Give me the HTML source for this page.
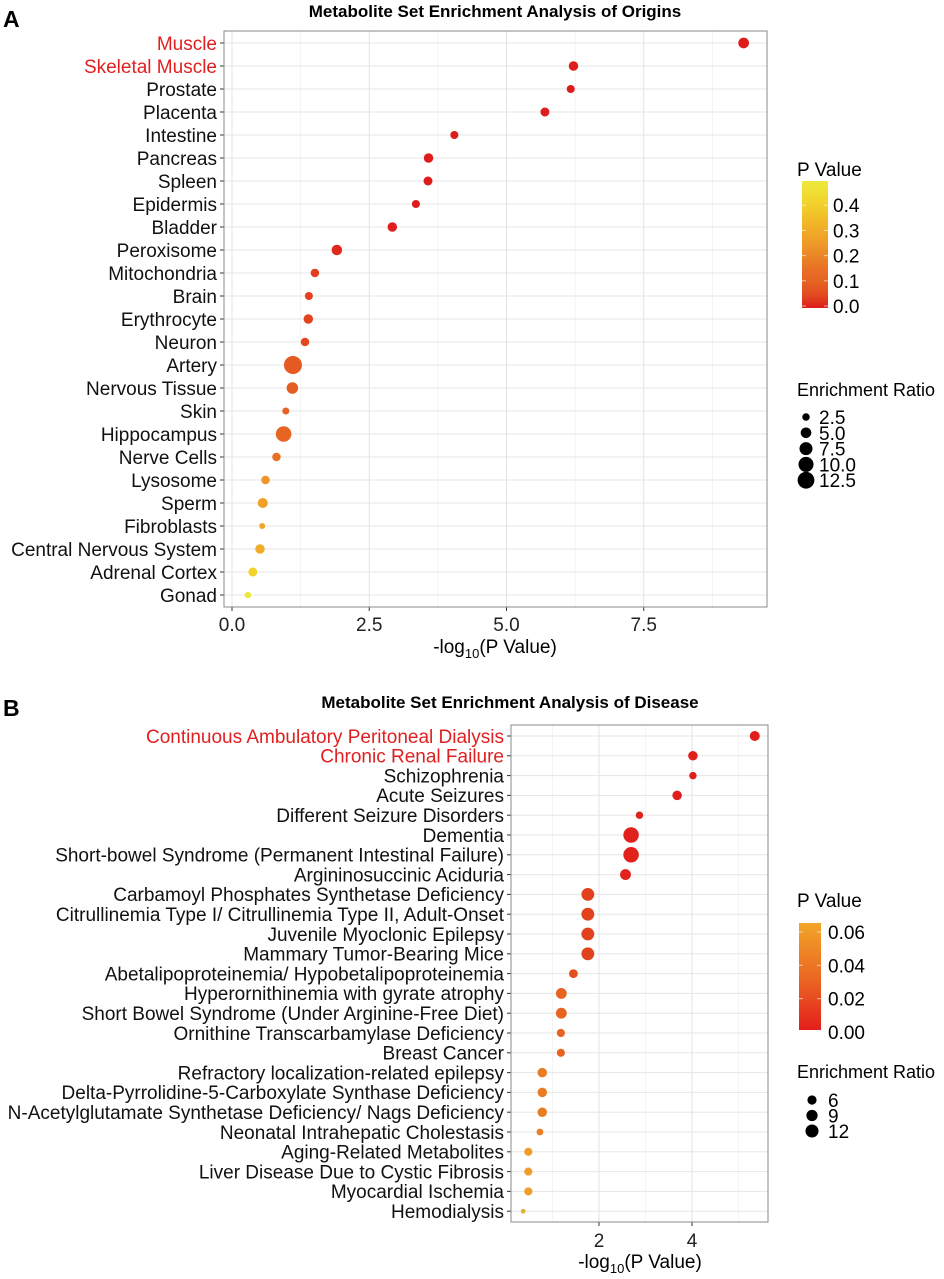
<!DOCTYPE html>
<html><head><meta charset="utf-8"><style>
body{margin:0;background:#fff;font-family:"Liberation Sans",Arial,sans-serif}
svg text{font-family:"Liberation Sans",Arial,sans-serif}
</style></head><body>
<svg id="chart" width="944" height="1274" xmlns="http://www.w3.org/2000/svg"></svg>
<script>
const catsA=["Muscle","Skeletal Muscle","Prostate","Placenta","Intestine","Pancreas","Spleen","Epidermis","Bladder","Peroxisome","Mitochondria","Brain","Erythrocyte","Neuron","Artery","Nervous Tissue","Skin","Hippocampus","Nerve Cells","Lysosome","Sperm","Fibroblasts","Central Nervous System","Adrenal Cortex","Gonad"];
const valsA=[9.32,6.22,6.17,5.70,4.05,3.58,3.57,3.35,2.92,1.91,1.51,1.40,1.39,1.33,1.11,1.10,0.98,0.94,0.81,0.61,0.56,0.55,0.51,0.38,0.29];
const ratioA=[4.6,3.6,2.6,3.2,2.6,3.6,3.2,2.6,3.6,4.4,2.9,2.6,3.6,2.9,13,5.3,2.0,9.7,2.9,2.9,4.0,1.4,3.6,3.2,1.7];
const ticksA=[0,2.5,5,7.5];
const tickLabelsA=["0.0","2.5","5.0","7.5"];
const pTicksA=[0,0.1,0.2,0.3,0.4];
const erTicksA=[2.5,5,7.5,10,12.5];

const catsB=["Continuous Ambulatory Peritoneal Dialysis","Chronic Renal Failure","Schizophrenia","Acute Seizures","Different Seizure Disorders","Dementia","Short-bowel Syndrome (Permanent Intestinal Failure)","Argininosuccinic Aciduria","Carbamoyl Phosphates Synthetase Deficiency","Citrullinemia Type I/ Citrullinemia Type II, Adult-Onset","Juvenile Myoclonic Epilepsy","Mammary Tumor-Bearing Mice","Abetalipoproteinemia/ Hypobetalipoproteinemia","Hyperornithinemia with gyrate atrophy","Short Bowel Syndrome (Under Arginine-Free Diet)","Ornithine Transcarbamylase Deficiency","Breast Cancer","Refractory localization-related epilepsy","Delta-Pyrrolidine-5-Carboxylate Synthase Deficiency","N-Acetylglutamate Synthetase Deficiency/ Nags Deficiency","Neonatal Intrahepatic Cholestasis","Aging-Related Metabolites","Liver Disease Due to Cystic Fibrosis","Myocardial Ischemia","Hemodialysis"];
const valsB=[5.35,4.02,4.02,3.68,2.87,2.69,2.69,2.57,1.76,1.76,1.76,1.76,1.45,1.19,1.19,1.18,1.18,0.78,0.78,0.78,0.73,0.48,0.48,0.48,0.37];
const ratioB=[7.1,6.4,3.9,6.4,3.9,17,17,8.3,11.6,11.6,11.6,11.6,5.5,8.3,8.3,4.7,4.7,6.4,6.4,6.4,3.3,4.7,4.7,4.7,1.6];
const ticksB=[2,4];
const tickLabelsB=["2","4"];
const pTicksB=[0,0.02,0.04,0.06];
const pLabelsB=["0.00","0.02","0.04","0.06"];
const erTicksB=[6,9,12];

const NS="http://www.w3.org/2000/svg";
const svg=document.getElementById('chart');
function mk(tag,attrs,parent){const e=document.createElementNS(NS,tag);for(const k in attrs)e.setAttribute(k,attrs[k]);(parent||svg).appendChild(e);return e;}
function txt(s,attrs,parent){const e=mk('text',attrs,parent);e.textContent=s;return e;}
function ramp(stops,p){
  if(p<=stops[0][0])return `rgb(${stops[0][1]})`;
  for(let i=1;i<stops.length;i++){if(p<=stops[i][0]){const a=stops[i-1],b=stops[i];const t=(p-a[0])/(b[0]-a[0]);
    return `rgb(${a[1].map((v,j)=>Math.round(v+(b[1][j]-v)*t))})`;}}
  return `rgb(${stops[stops.length-1][1]})`;}
const rampA=[[0,[222,28,28]],[0.03,[225,60,30]],[0.08,[228,92,34]],[0.155,[232,112,36]],[0.25,[238,152,40]],[0.31,[240,172,40]],[0.42,[242,212,42]],[0.5,[238,232,60]]];
const rampB=[[0,[225,30,28]],[0.02,[226,70,30]],[0.065,[230,100,32]],[0.17,[232,125,35]],[0.33,[240,158,40]],[0.45,[215,185,50]]];
const rampBbar=[[0,[228,30,28]],[0.03,[234,100,35]],[0.065,[242,165,40]]];
function colA(p){return ramp(rampA,p);}
function colB(p){return ramp(rampB,p);}

function panel(o){
  const g=mk('g',{});
  
  
  const x=v=>o.x0+(v-o.xmin)*o.ppu;
  const y=i=>o.yTop+i*o.step;
  mk('rect',{x:o.L,y:o.T,width:o.R-o.L,height:o.B-o.T,fill:'#fff'},g);
  for(let k=0;k<o.ticks.length+1;k++){
    const mv=o.ticks[0]+(k-0.5)*(o.ticks[1]-o.ticks[0]);
    const px=x(mv); if(px>o.L&&px<o.R){mk('line',{x1:px,x2:px,y1:o.T,y2:o.B,stroke:'#f2f2f2','stroke-width':0.8},g);}
  }
  o.ticks.forEach((t,i)=>{const px=x(t);
    const l=mk('line',{x1:px,x2:px,y1:o.T,y2:o.B,stroke:'#e3e3e3','stroke-width':1},g);
    
    mk('line',{x1:px,x2:px,y1:o.B,y2:o.B+4,stroke:'#333'},g);
    const tl=txt(o.tickLabels[i],{x:px,y:o.tickY,'font-size':19,'text-anchor':'middle',fill:'#222'},g);
    
  });
  o.cats.forEach((c,i)=>{const py=y(i);
    const l=mk('line',{x1:o.L,x2:o.R,y1:py,y2:py,stroke:'#e6e6e6','stroke-width':1},g);
    
    mk('line',{x1:o.L-4,x2:o.L,y1:py,y2:py,stroke:'#333'},g);
    const t=txt(c,{x:o.L-7,y:py+o.lfs*0.36,'font-size':o.lfs,'text-anchor':'end',fill:i<2?'#e02020':'#111'},g);
    
  });
  o.vals.forEach((v,i)=>{
    const p=Math.pow(10,-v);
    const d=mk('circle',{cx:x(v),cy:y(i),r:o.k*Math.sqrt(o.ratio[i]),fill:o.col(p)},g);
    
    
  });
  mk('rect',{x:o.L,y:o.T,width:o.R-o.L,height:o.B-o.T,fill:'none',stroke:'#888','stroke-width':1},g);
}

let e;
e=txt('A',{x:3,y:27,'font-size':23,'font-weight':'bold'});
e=txt('Metabolite Set Enrichment Analysis of Origins',{x:495,y:17,'font-size':17,'font-weight':'bold','text-anchor':'middle'});
e=txt('B',{x:3,y:716,'font-size':23,'font-weight':'bold'});
e=txt('Metabolite Set Enrichment Analysis of Disease',{x:510,y:708,'font-size':17,'font-weight':'bold','text-anchor':'middle'});

panel({name:'panel-a-plot',cats:catsA,vals:valsA,ratio:ratioA,ticks:ticksA,tickLabels:tickLabelsA,
  L:224,R:767,T:31,B:607,x0:232,xmin:0,ppu:54.9,yTop:43,step:23,lfs:19,tickY:631,k:2.5,col:colA});
panel({name:'panel-b-plot',cats:catsB,vals:valsB,ratio:ratioB,ticks:ticksB,tickLabels:tickLabelsB,
  L:511,R:768,T:725,B:1222,x0:599,xmin:2,ppu:46.5,yTop:736,step:19.8,lfs:19,tickY:1247,k:1.88,col:colB});

function xTitle(cx,cy,name){const t=mk('text',{x:cx,y:cy,'font-size':19,'text-anchor':'middle'});
  
  t.appendChild(document.createTextNode('-log'));
  const s=mk('tspan',{'font-size':13,dy:5},t);s.textContent='10';
  const s2=mk('tspan',{dy:-5},t);s2.textContent='(P Value)';}
xTitle(495,653,'x-axis-title-a');
xTitle(640,1268,'x-axis-title-b');

const defs=mk('defs',{});
const gA=mk('linearGradient',{id:'gA',x1:0,y1:1,x2:0,y2:0},defs);
for(let s=0;s<=10;s++)mk('stop',{offset:s/10,'stop-color':colA(s/10*0.505)},gA);
const gB=mk('linearGradient',{id:'gB',x1:0,y1:1,x2:0,y2:0},defs);
for(let s=0;s<=10;s++)mk('stop',{offset:s/10,'stop-color':ramp(rampBbar,s/10*0.065)},gB);

// Legend A
e=txt('P Value',{x:797,y:176,'font-size':19});
e=mk('rect',{x:802,y:181,width:26,height:127,fill:'url(#gA)'});
pTicksA.forEach(p=>{const py=306-p*252;
  mk('line',{x1:802,x2:806,y1:py,y2:py,stroke:'#fff','stroke-opacity':0.6});mk('line',{x1:824,x2:828,y1:py,y2:py,stroke:'#fff','stroke-opacity':0.6});
  const t=txt(p.toFixed(1),{x:833,y:py+7,'font-size':19});});
e=txt('Enrichment Ratio',{x:797,y:396,'font-size':18});
erTicksA.forEach((r,i)=>{const py=417+i*15.8;
  const c=mk('circle',{cx:806,cy:py,r:2.5*Math.sqrt(r)*0.95,fill:'#000'});
  const t=txt(r.toFixed(1),{x:819,y:py+7,'font-size':19});});

// Legend B
e=txt('P Value',{x:797,y:907,'font-size':19});
e=mk('rect',{x:799,y:923,width:22,height:107,fill:'url(#gB)'});
pTicksB.forEach((p,i)=>{const py=1032-p*1667;
  mk('line',{x1:799,x2:803,y1:py,y2:py,stroke:'#fff','stroke-opacity':0.6});mk('line',{x1:817,x2:821,y1:py,y2:py,stroke:'#fff','stroke-opacity':0.6});
  const t=txt(pLabelsB[i],{x:828,y:py+7,'font-size':19});});
e=txt('Enrichment Ratio',{x:797,y:1078,'font-size':18});
erTicksB.forEach((r,i)=>{const py=1100+i*15.5;
  const c=mk('circle',{cx:812,cy:py,r:1.88*Math.sqrt(r),fill:'#000'});
  const t=txt(String(r),{x:828,y:py+7,'font-size':19});});
</script>
</body></html>
